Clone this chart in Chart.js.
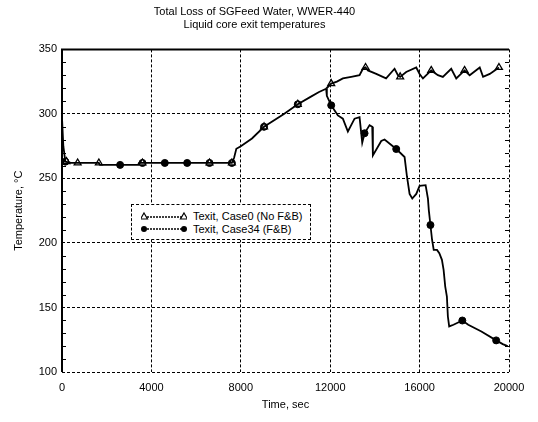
<!DOCTYPE html>
<html lang="en">
<head>
  <meta charset="UTF-8">
  <title>Total Loss of SG Feed Water, WWER-440</title>
  <script src="https://cdn.jsdelivr.net/npm/chart.js"></script>
  <style>
    body {
      margin: 0;
      background: #fff;
      font-family: 'Liberation Sans', Arial, sans-serif;
      color: #000;
    }
    .wrap {
      position: relative;
      width: 538px;
      height: 422px;
    }
    #legend {
      position: absolute;
      left: 131px;
      top: 204px;
      width: 180px;
      height: 36px;
      box-sizing: border-box;
      border: 1px dashed #000;
      background: #fff;
      font-size: 11px;
    }
    .row {
      position: absolute;
      left: 9px;
      height: 13px;
      display: flex;
      align-items: center;
      white-space: nowrap;
    }
    .row svg { margin-right: 6px; }
  </style>
</head>
<body>

<div class="wrap">
  <canvas id="cvs" width="538" height="422"></canvas>
  <div id="legend">
    <div class="row" style="top:4px">
      <svg width="46" height="10"><line x1="3" y1="6" x2="43" y2="6" stroke="#000" stroke-width="1.3" stroke-dasharray="2,1"/>
        <polygon points="3,2 6.5,8 -0.5,8" fill="#fff" stroke="#000" stroke-width="1.2"/>
        <polygon points="43,2 46.5,8 39.5,8" fill="#fff" stroke="#000" stroke-width="1.2"/></svg>
      Texit, Case0 (No F&amp;B)
    </div>
    <div class="row" style="top:17px">
      <svg width="46" height="10"><line x1="3" y1="5" x2="43" y2="5" stroke="#000" stroke-width="1.3" stroke-dasharray="2,1"/>
        <circle cx="3" cy="5" r="3" fill="#000"/><circle cx="43" cy="5" r="3" fill="#000"/></svg>
      Texit, Case34 (F&amp;B)
    </div>
  </div>
</div>

<script>
// ticks
const xTicks = [0, 4000, 8000, 12000, 16000, 20000];
const yTicks = [100, 150, 200, 250, 300, 350];
const yMinor = [110, 120, 130, 140, 160, 170, 180, 190, 210, 220, 230, 240, 260, 270, 280, 290, 310, 320, 330, 340];

// common part of both runs (until the split near 11800 s)
const timeCommon = [0, 60, 150, 400, 1000, 1650, 1700, 3400, 3450, 5000, 7000, 7600, 7700, 7800, 8000, 8500, 9040, 9930, 10550, 11100, 11500, 11817];
const tempCommon = [297, 275, 263, 262, 262, 262, 260.5, 260.5, 262, 262, 262, 262, 266, 273, 275, 281, 290, 300, 307.5, 313, 317, 319.5];

// Case0 (No F&B) after split
const timeCase0 = [12045, 12300, 12567, 12940, 13313, 13463, 13582, 13687, 14060, 14500, 14880, 15030, 15130, 15400, 15850, 16000, 16150, 16520, 16820, 17040, 17415, 17640, 18010, 18240, 18690, 18840, 19140, 19550];
const tempCase0 = [323.5, 325, 327.5, 328.7, 330, 335, 336, 333.7, 331, 327.5, 335, 330, 328.7, 332.5, 336, 331, 327.5, 333.7, 330, 328.7, 335, 327.5, 333.7, 330, 336, 328.7, 331, 336];

// Case34 (F&B) after split
const timeCase34 = [11850, 12045, 12343, 12567, 12791, 12940, 13090, 13313, 13433, 13537, 13761, 13881, 13910, 14284, 14433, 14955, 15328, 15433, 15552, 15672, 15851, 16000, 16269, 16373, 16412, 16485, 16559, 16632, 16779, 16882, 16999, 17074, 17147, 17221, 17265, 17324, 17515, 17912, 18176, 18765, 19426, 19721, 19941];
const tempCase34 = [314, 306.7, 298.8, 296.3, 286.4, 291.3, 296.3, 297.5, 277.7, 285, 291.3, 290, 267.8, 279, 280.2, 272.8, 266.6, 251.7, 238, 234.4, 238, 244.3, 244.8, 234.4, 225.5, 213.9, 202.3, 194.6, 194.6, 192, 186.9, 179.1, 166.2, 158.5, 143, 135.3, 136.6, 139.9, 136.6, 131.4, 124.5, 121.6, 120];

// symbols
const markTimeCase0 = [200, 700, 1650, 3600, 6600, 7600, 9040, 10550, 12045, 13582, 15130, 16520, 18010, 19550];
const markTempCase0 = [263, 262, 262, 262, 262, 262, 290, 307.5, 323.5, 336, 328.7, 333.7, 333.7, 336];
const markTimeCase34 = [150, 2600, 3600, 4600, 5600, 6600, 7600, 9040, 10550, 12045, 13537, 14955, 16485, 17912, 19426];
const markTempCase34 = [263, 260.5, 262, 262, 262, 262, 262, 290, 307.5, 306.7, 285, 272.8, 213.9, 139.9, 124.5];

const pts = (xs, ys) => xs.map((x, i) => ({ x, y: ys[i] }));

const font = { family: "'Liberation Sans', Arial, sans-serif", size: 11 };

// frame + minor ticks
const framePlugin = {
  id: 'frame',
  afterDatasetsDraw(chart) {
    const { ctx, chartArea: a, scales } = chart;
    ctx.save();
    ctx.strokeStyle = '#000';
    ctx.lineWidth = 1;
    yMinor.forEach(v => {
      const y = Math.round(scales.y.getPixelForValue(v)) + 0.5;
      ctx.beginPath();
      ctx.moveTo(a.left, y); ctx.lineTo(a.left + 4, y);
      ctx.moveTo(a.right, y); ctx.lineTo(a.right - 4, y);
      ctx.stroke();
    });
    ctx.lineWidth = 2;
    ctx.beginPath();
    ctx.moveTo(a.left, a.bottom);
    ctx.lineTo(a.left, a.top);
    ctx.lineTo(a.right, a.top);
    ctx.stroke();
    ctx.restore();
  }
};

const lineW = 1.8;

new Chart(document.getElementById('cvs'), {
  type: 'line',
  data: {
    datasets: [
      { data: pts(timeCommon, tempCommon), borderColor: '#000', borderWidth: lineW, pointRadius: 0 },
      { data: pts([timeCommon[timeCommon.length - 1], ...timeCase0], [tempCommon[tempCommon.length - 1], ...tempCase0]), borderColor: '#000', borderWidth: lineW, pointRadius: 0 },
      { data: pts([timeCommon[timeCommon.length - 1], ...timeCase34], [tempCommon[tempCommon.length - 1], ...tempCase34]), borderColor: '#000', borderWidth: lineW, pointRadius: 0 },
      { data: pts(markTimeCase0, markTempCase0), showLine: false, pointStyle: 'triangle', pointRadius: 4, backgroundColor: '#fff', borderColor: '#000', borderWidth: 1.3 },
      { data: pts(markTimeCase34, markTempCase34), showLine: false, pointStyle: 'circle', pointRadius: 3.5, backgroundColor: '#000', borderColor: '#000', borderWidth: 1 }
    ]
  },
  options: {
    responsive: false,
    animation: false,
    devicePixelRatio: 1,
    layout: { padding: { left: 0, right: 29, top: 0, bottom: 0 } },
    plugins: {
      legend: { display: false },
      tooltip: { enabled: false },
      title: {
        display: true,
        text: ['Total Loss of SGFeed Water, WWER-440', 'Liquid core exit temperatures'],
        color: '#000',
        font: { ...font, weight: 'normal' },
        padding: { top: 5, bottom: 18 }
      }
    },
    scales: {
      x: {
        type: 'linear',
        min: 0,
        max: 20000,
        afterBuildTicks: s => { s.ticks = xTicks.map(v => ({ value: v })); },
        afterFit: s => { s.height = 50; },
        ticks: { color: '#000', font, padding: 9, maxRotation: 0, callback: v => String(v) },
        grid: { color: '#000', lineWidth: 1, drawTicks: false, tickLength: 0 },
        border: { display: false, dash: [3, 2] },
        title: { display: true, text: 'Time, sec', color: '#000', font, padding: { top: 0, bottom: 10 } }
      },
      y: {
        min: 100,
        max: 350,
        afterBuildTicks: s => { s.ticks = yTicks.map(v => ({ value: v })); },
        afterFit: s => { s.width = 62; },
        ticks: { color: '#000', font, padding: 5, callback: v => String(v) },
        grid: { color: '#000', lineWidth: 1, drawTicks: false, tickLength: 0 },
        border: { display: false, dash: [3, 2] },
        title: { display: true, text: 'Temperature, °C', color: '#000', font, padding: { top: 12, bottom: 0 } }
      }
    }
  },
  plugins: [framePlugin]
});
</script>

</body>
</html>
